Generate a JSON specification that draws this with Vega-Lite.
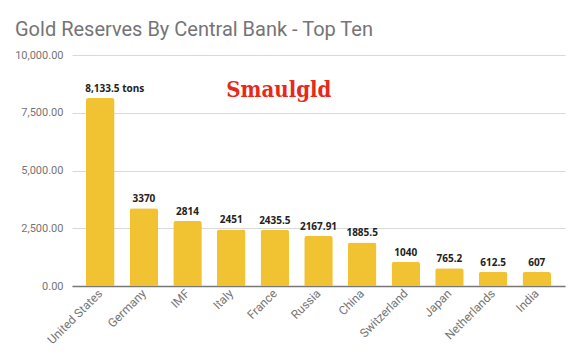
{
  "$schema": "https://vega.github.io/schema/vega-lite/v6.json",
  "width": 493,
  "height": 231,
  "autosize": {"type": "none"},
  "padding": {"left": 72, "top": 55, "right": 15, "bottom": 74},
  "background": "white",
  "title": {
    "text": "Gold Reserves By Central Bank - Top Ten",
    "anchor": "start",
    "frame": "group",
    "dx": -57,
    "dy": 27,
    "offset": 20,
    "baseline": "alphabetic",
    "font": "Roboto",
    "fontSize": 20,
    "fontWeight": "normal",
    "color": "#757575"
  },
  "config": {
    "view": {"stroke": null},
    "axis": {"labelFont": "Roboto", "labelColor": "#757575", "titleFont": "Roboto"}
  },
  "data": {
    "values": [
      {"bank": "United States", "tons": 8133.5, "label": "8,133.5 tons"},
      {"bank": "Germany", "tons": 3370, "label": "3370"},
      {"bank": "IMF", "tons": 2814, "label": "2814"},
      {"bank": "Italy", "tons": 2451, "label": "2451"},
      {"bank": "France", "tons": 2435.5, "label": "2435.5"},
      {"bank": "Russia", "tons": 2167.91, "label": "2167.91"},
      {"bank": "China", "tons": 1885.5, "label": "1885.5"},
      {"bank": "Switzerland", "tons": 1040, "label": "1040"},
      {"bank": "Japan", "tons": 765.2, "label": "765.2"},
      {"bank": "Netherlands", "tons": 612.5, "label": "612.5"},
      {"bank": "India", "tons": 607, "label": "607"}
    ]
  },
  "encoding": {
    "x": {
      "field": "bank",
      "type": "nominal",
      "sort": null,
      "scale": {"paddingInner": 0.346, "paddingOuter": 0.32},
      "axis": {
        "title": null,
        "labelAngle": -45,
        "labelAlign": "right",
        "labelBaseline": "middle",
        "labelFontSize": 12,
        "labelPadding": 5,
        "ticks": false,
        "domainColor": "#777777",
        "domainWidth": 1.5
      }
    },
    "y": {
      "field": "tons",
      "type": "quantitative",
      "scale": {"domain": [0, 10000]},
      "axis": {
        "title": null,
        "values": [0, 2500, 5000, 7500, 10000],
        "format": ",.2f",
        "labelFontSize": 11,
        "domain": false,
        "ticks": false,
        "labelPadding": 9,
        "gridColor": "#d9d9d9",
        "gridWidth": 1
      }
    }
  },
  "layer": [
    {"mark": {"type": "bar", "color": "#F1C232", "cornerRadiusTopLeft": 2.5, "cornerRadiusTopRight": 2.5}},
    {
      "transform": [{"filter": "datum.bank !== 'United States'"}],
      "mark": {"type": "text", "baseline": "alphabetic", "dy": -6, "font": "Open Sans", "fontWeight": "bold", "fontSize": 10, "color": "#222222"},
      "encoding": {"text": {"field": "label"}}
    },
    {
      "transform": [{"filter": "datum.bank === 'United States'"}],
      "mark": {"type": "text", "align": "left", "dx": -15, "baseline": "alphabetic", "dy": -6, "font": "Open Sans", "fontWeight": "bold", "fontSize": 10, "color": "#222222"},
      "encoding": {"text": {"field": "label"}}
    },
    {
      "data": {"values": [{"bank": "France", "tons": 8480, "logo": "Smaulgld"}]},
      "mark": {"type": "text", "dx": 4, "font": "DejaVu Serif Condensed", "fontWeight": "bold", "fontSize": 22, "color": "#E8281B", "baseline": "middle"},
      "encoding": {"text": {"field": "logo"}}
    }
  ]
}
